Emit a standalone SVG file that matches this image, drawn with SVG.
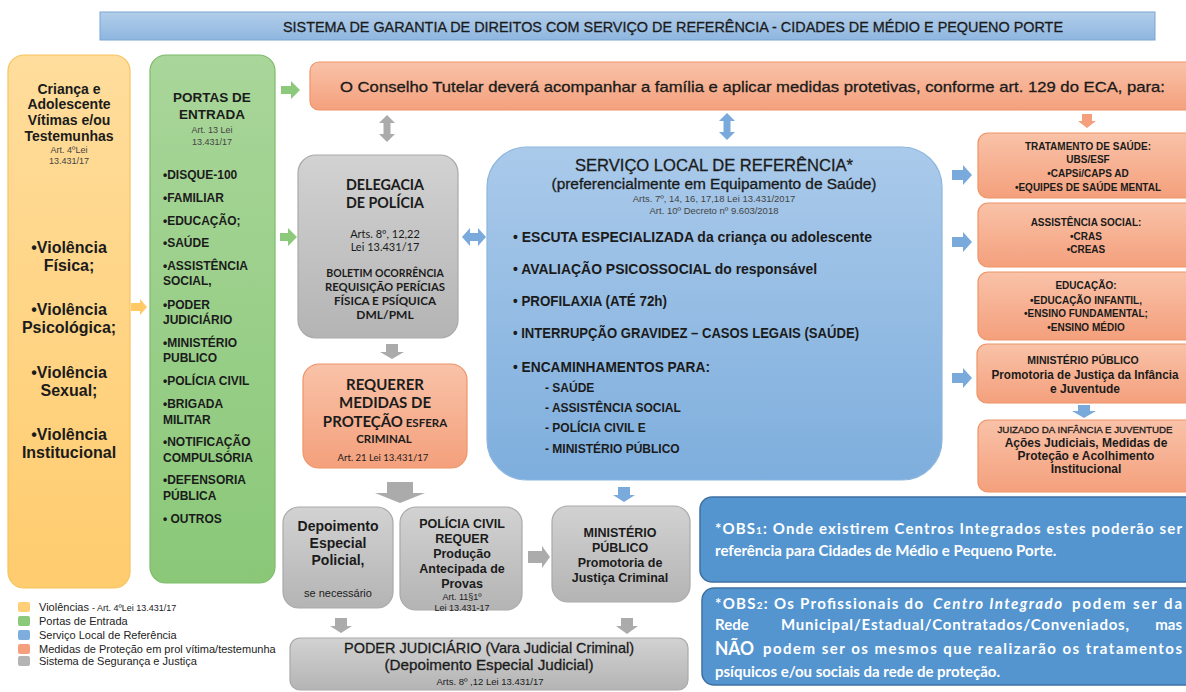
<svg xmlns="http://www.w3.org/2000/svg" width="1186" height="692" viewBox="0 0 1186 692">
<defs>
<linearGradient id="gTitle" x1="0" y1="0" x2="0" y2="1"><stop offset="0" stop-color="#B2CEEA"/><stop offset="1" stop-color="#8EB6E0"/></linearGradient>
<linearGradient id="gYel" x1="0" y1="0" x2="0" y2="1"><stop offset="0" stop-color="#FFDD9C"/><stop offset="1" stop-color="#FFCC6E"/></linearGradient>
<linearGradient id="gGrn" x1="0" y1="0" x2="0" y2="1"><stop offset="0" stop-color="#A9D69A"/><stop offset="1" stop-color="#8AC878"/></linearGradient>
<linearGradient id="gGry" x1="0" y1="0" x2="0" y2="1"><stop offset="0" stop-color="#D2D2D2"/><stop offset="1" stop-color="#B4B4B4"/></linearGradient>
<linearGradient id="gBlu" x1="0" y1="0" x2="0" y2="1"><stop offset="0" stop-color="#AACAEA"/><stop offset="1" stop-color="#7EAEDD"/></linearGradient>
<linearGradient id="gSal" x1="0" y1="0" x2="0" y2="1"><stop offset="0" stop-color="#F9C2A8"/><stop offset="1" stop-color="#F4A07C"/></linearGradient>
<style>
.cg{font-family:"Liberation Sans",Arial,sans-serif;fill:#1b1b1b}
.cb{font-family:Lato,"Liberation Sans",Arial,sans-serif;fill:#1b1b1b}
.b{font-weight:bold}
.m{text-anchor:middle}
.sm{fill:#444}
.med{stroke:#1b1b1b;stroke-width:0.3}
.yel{fill:url(#gYel);stroke:#F7C45F;stroke-width:1.2}
.grn{fill:url(#gGrn);stroke:#7DBB6A;stroke-width:1.2}
.gry{fill:url(#gGry);stroke:#A9A9A9;stroke-width:1.2}
.blu{fill:url(#gBlu);stroke:#8CB6DE;stroke-width:1.2}
.sal{fill:url(#gSal);stroke:#EE9467;stroke-width:1.2}
.obs{fill:#5495D0;stroke:#3E70A2;stroke-width:1.5}
.wt{font-family:Lato,"Liberation Sans",Arial,sans-serif;fill:#fff;font-weight:bold}
.lg{font-family:"Liberation Sans",Arial,sans-serif;font-size:11px;fill:#222}
</style>
</defs>
<rect width="1186" height="692" fill="#fff"/>

<g id="title">
<rect x="100" y="12" width="1055" height="28" fill="url(#gTitle)" stroke="#7CA5D4" stroke-width="1"/>
<text class="cg m med" x="673" y="31.5" font-size="15" textLength="780" lengthAdjust="spacingAndGlyphs">SISTEMA DE GARANTIA DE DIREITOS COM SERVIÇO DE REFERÊNCIA - CIDADES DE MÉDIO E PEQUENO PORTE</text>
</g>

<g id="violencias">
<rect class="yel" x="8" y="55" width="122" height="533" rx="16"/>
<text class="cg b m" font-size="14"><tspan x="69" y="94">Criança e</tspan><tspan x="69" y="109">Adolescente</tspan><tspan x="69" y="125">Vítimas e/ou</tspan><tspan x="69" y="141">Testemunhas</tspan></text>
<text class="cg m sm" font-size="9"><tspan x="69" y="153">Art. 4ºLei</tspan><tspan x="69" y="164">13.431/17</tspan></text>
<text class="cg b m" font-size="16"><tspan x="69" y="253">•Violência</tspan><tspan x="69" y="271">Física;</tspan><tspan x="69" y="315">•Violência</tspan><tspan x="69" y="333">Psicológica;</tspan><tspan x="69" y="378">•Violência</tspan><tspan x="69" y="396">Sexual;</tspan><tspan x="69" y="440">•Violência</tspan><tspan x="69" y="458">Institucional</tspan></text>
</g>

<g id="portas">
<rect class="grn" x="150" y="55" width="125" height="528" rx="16"/>
<text class="cg b m" font-size="13.5"><tspan x="212" y="102">PORTAS DE</tspan><tspan x="212" y="119">ENTRADA</tspan></text>
<text class="cg m sm" font-size="9"><tspan x="212" y="133">Art. 13 Lei</tspan><tspan x="212" y="145">13.431/17</tspan></text>
<text class="cg b" font-size="12"><tspan x="163" y="179">•DISQUE-100</tspan><tspan x="163" y="202">•FAMILIAR</tspan><tspan x="163" y="225">•EDUCAÇÃO;</tspan><tspan x="163" y="247">•SAÚDE</tspan><tspan x="163" y="270">•ASSISTÊNCIA</tspan><tspan x="163" y="285">SOCIAL,</tspan><tspan x="163" y="309">•PODER</tspan><tspan x="163" y="324">JUDICIÁRIO</tspan><tspan x="163" y="347">•MINISTÉRIO</tspan><tspan x="163" y="362">PUBLICO</tspan><tspan x="163" y="385">•POLÍCIA CIVIL</tspan><tspan x="163" y="408">•BRIGADA</tspan><tspan x="163" y="424">MILITAR</tspan><tspan x="163" y="446">•NOTIFICAÇÃO</tspan><tspan x="163" y="462">COMPULSÓRIA</tspan><tspan x="163" y="484">•DEFENSORIA</tspan><tspan x="163" y="500">PÚBLICA</tspan><tspan x="163" y="523">• OUTROS</tspan></text>
</g>

<g id="conselho">
<rect class="sal" x="310" y="62" width="890" height="48" rx="9"/>
<text class="cg med" x="340" y="92" font-size="15" textLength="825" lengthAdjust="spacingAndGlyphs">O Conselho Tutelar deverá acompanhar a família e aplicar medidas protetivas, conforme art. 129 do ECA, para:</text>
</g>

<g id="delegacia">
<rect class="gry" x="298" y="155" width="160" height="183" rx="18"/>
<text class="cb b m" font-size="16"><tspan x="385" y="190" textLength="78" lengthAdjust="spacingAndGlyphs">DELEGACIA</tspan><tspan x="385" y="208" textLength="78" lengthAdjust="spacingAndGlyphs">DE POLÍCIA</tspan></text>
<text class="cb m" font-size="11" fill="#333"><tspan x="385" y="238">Arts. 8º, 12,22</tspan><tspan x="385" y="251">Lei 13.431/17</tspan></text>
<text class="cb b m" font-size="10.5" x="385" y="277">BOLETIM  OCORRÊNCIA</text>
<text class="cb b m" font-size="12"><tspan x="385" y="291" textLength="120" lengthAdjust="spacingAndGlyphs">REQUISIÇÃO PERÍCIAS</tspan><tspan x="385" y="305" textLength="102" lengthAdjust="spacingAndGlyphs">FÍSICA E PSÍQUICA</tspan><tspan x="385" y="319">DML/PML</tspan></text>
</g>

<g id="requerer">
<rect class="sal" x="303" y="364" width="164" height="104" rx="16"/>
<text class="cb b m" font-size="15"><tspan x="385" y="390">REQUERER</tspan><tspan x="385" y="408">MEDIDAS  DE</tspan></text>
<text class="cb b m" x="385" y="427"><tspan font-size="15">PROTEÇÃO</tspan><tspan font-size="11.5"> ESFERA</tspan></text>
<text class="cb b m" font-size="11.5" x="384" y="443">CRIMINAL</text>
<text class="cb m" font-size="9.5" x="383" y="461" fill="#333">Art. 21 Lei 13.431/17</text>
</g>

<g id="servico">
<rect class="blu" x="487" y="147" width="455" height="333" rx="40"/>
<text class="cg m med" font-size="17" x="714" y="171" textLength="278" lengthAdjust="spacingAndGlyphs">SERVIÇO LOCAL DE REFERÊNCIA*</text>
<text class="cg m med" font-size="14" x="714" y="189" textLength="325" lengthAdjust="spacingAndGlyphs">(preferencialmente em Equipamento de Saúde)</text>
<text class="cg m sm" font-size="9.5"><tspan x="714" y="202">Arts. 7º,  14, 16, 17,18 Lei 13.431/2017</tspan><tspan x="714" y="214">Art.  10º Decreto nº 9.603/2018</tspan></text>
<text class="cg b" font-size="14" x="513" y="242" textLength="359" lengthAdjust="spacingAndGlyphs">• ESCUTA ESPECIALIZADA  da criança ou adolescente</text>
<text class="cg b" font-size="14" x="513" y="274" textLength="304" lengthAdjust="spacingAndGlyphs">• AVALIAÇÃO PSICOSSOCIAL do responsável</text>
<text class="cg b" font-size="14" x="513" y="306" textLength="154" lengthAdjust="spacingAndGlyphs">• PROFILAXIA (ATÉ 72h)</text>
<text class="cg b" font-size="14" x="513" y="338" textLength="346" lengthAdjust="spacingAndGlyphs">• INTERRUPÇÃO GRAVIDEZ – CASOS LEGAIS (SAÚDE)</text>
<text class="cg b" font-size="14" x="513" y="372" textLength="197" lengthAdjust="spacingAndGlyphs">• ENCAMINHAMENTOS  PARA:</text>
<text class="cg b" font-size="12"><tspan x="545" y="392">- SAÚDE</tspan><tspan x="545" y="412">- ASSISTÊNCIA SOCIAL</tspan><tspan x="545" y="432">- POLÍCIA  CIVIL E</tspan><tspan x="545" y="453">- MINISTÉRIO PÚBLICO</tspan></text>
</g>

<g id="tratamento">
<rect class="sal" x="978" y="133" width="220" height="65" rx="10"/>
<text class="cg b m" font-size="10"><tspan x="1088" y="150">TRATAMENTO DE SAÚDE:</tspan><tspan x="1088" y="163">UBS/ESF</tspan><tspan x="1088" y="177">•CAPSi/CAPS AD</tspan><tspan x="1088" y="191">•EQUIPES DE SAÚDE MENTAL</tspan></text>
</g>
<g id="assistencia">
<rect class="sal" x="978" y="203" width="220" height="64" rx="10"/>
<text class="cg b m" font-size="10"><tspan x="1086" y="226">ASSISTÊNCIA SOCIAL:</tspan><tspan x="1086" y="240">•CRAS</tspan><tspan x="1086" y="253">•CREAS</tspan></text>
</g>
<g id="educacao">
<rect class="sal" x="978" y="272" width="220" height="68" rx="10"/>
<text class="cg b m" font-size="10"><tspan x="1086" y="289">EDUCAÇÃO:</tspan><tspan x="1086" y="304">•EDUCAÇÃO INFANTIL,</tspan><tspan x="1086" y="317">•ENSINO FUNDAMENTAL;</tspan><tspan x="1086" y="331">•ENSINO MÉDIO</tspan></text>
</g>
<g id="mp-infancia">
<rect class="sal" x="977" y="344" width="221" height="59" rx="10"/>
<text class="cg b m" font-size="10.5" x="1083" y="364">MINISTÉRIO PÚBLICO</text>
<text class="cg b m" font-size="12"><tspan x="1085" y="379" textLength="187" lengthAdjust="spacingAndGlyphs">Promotoria de Justiça da Infância</tspan><tspan x="1085" y="393">e Juventude</tspan></text>
</g>
<g id="juizado">
<rect class="sal" x="978" y="420" width="220" height="72" rx="10"/>
<text class="cg m med" font-size="9.5" x="1085" y="433" textLength="175" lengthAdjust="spacingAndGlyphs">JUIZADO DA INFÂNCIA E JUVENTUDE</text>
<text class="cg b m" font-size="12"><tspan x="1086" y="447">Ações Judiciais, Medidas de</tspan><tspan x="1086" y="460">Proteção e Acolhimento</tspan><tspan x="1086" y="473">Institucional</tspan></text>
</g>

<g id="depoimento">
<rect class="gry" x="283" y="507" width="110" height="101" rx="16"/>
<text class="cg b m" font-size="14"><tspan x="338" y="531">Depoimento</tspan><tspan x="338" y="548">Especial</tspan><tspan x="338" y="565">Policial,</tspan></text>
<text class="cg m" font-size="11" x="338" y="597">se necessário</text>
</g>
<g id="policia-civil">
<rect class="gry" x="400" y="507" width="122" height="103" rx="16"/>
<text class="cg b m" font-size="12.5"><tspan x="462" y="528">POLÍCIA CIVIL</tspan><tspan x="462" y="543">REQUER</tspan><tspan x="462" y="558">Produção</tspan><tspan x="462" y="573">Antecipada de</tspan><tspan x="462" y="588">Provas</tspan></text>
<text class="cg m" font-size="9" fill="#333"><tspan x="462" y="600">Art. 11§1º</tspan><tspan x="462" y="611">Lei 13.431-17</tspan></text>
</g>
<g id="mp-criminal">
<rect class="gry" x="552" y="506" width="138" height="96" rx="16"/>
<text class="cg b m" font-size="12.5"><tspan x="620" y="537">MINISTÉRIO</tspan><tspan x="620" y="552">PÚBLICO</tspan><tspan x="620" y="567">Promotoria de</tspan><tspan x="620" y="582">Justiça Criminal</tspan></text>
</g>
<g id="poder-judiciario">
<rect class="gry" x="290" y="638" width="398" height="52" rx="10"/>
<text class="cg m med" font-size="15" x="489" y="653" textLength="290" lengthAdjust="spacingAndGlyphs">PODER JUDICIÁRIO (Vara Judicial Criminal)</text>
<text class="cg m med" font-size="15" x="489" y="670" textLength="209" lengthAdjust="spacingAndGlyphs">(Depoimento Especial Judicial)</text>
<text class="cg m" font-size="9.5" x="490" y="685" fill="#333">Arts. 8º ,12 Lei 13.431/17</text>
</g>

<g id="obs1">
<rect class="obs" x="700" y="497" width="500" height="85" rx="12"/>
<text class="wt" font-size="15" x="715" y="534" textLength="467" lengthAdjust="spacing">*OBS<tspan font-size="10">1</tspan>: Onde existirem Centros Integrados estes poderão ser</text>
<text class="wt" font-size="15" x="715" y="556">referência para Cidades de Médio e Pequeno Porte.</text>
</g>
<g id="obs2">
<rect class="obs" x="702" y="588" width="498" height="97" rx="12"/>
<text class="wt" font-size="15" x="715" y="609" textLength="208" lengthAdjust="spacing">*OBS<tspan font-size="10">2</tspan>: Os Profissionais do</text>
<text class="wt" font-size="15" x="933" y="609" font-style="italic" textLength="129" lengthAdjust="spacing">Centro Integrado</text>
<text class="wt" font-size="15" x="1072" y="609" textLength="110" lengthAdjust="spacing">podem ser da</text>
<text class="wt" font-size="15" x="715" y="630">Rede</text>
<text class="wt" font-size="15" x="781" y="630" textLength="348" lengthAdjust="spacing">Municipal/Estadual/Contratados/Conveniados,</text>
<text class="wt" font-size="15" x="1182" y="630" text-anchor="end">mas</text>
<text class="wt" font-size="19" x="715" y="655" textLength="39" lengthAdjust="spacingAndGlyphs">NÃO</text>
<text class="wt" font-size="15" x="763" y="654" textLength="419" lengthAdjust="spacing">podem ser os mesmos que realizarão os tratamentos</text>
<text class="wt" font-size="15" x="715" y="677">psíquicos e/ou sociais da rede de proteção.</text>
</g>

<g id="legenda">
<rect x="18" y="602" width="12" height="10" rx="2" fill="#FFCF78"/>
<rect x="18" y="616" width="12" height="10" rx="2" fill="#8CC97A"/>
<rect x="18" y="630" width="12" height="10" rx="2" fill="#7EAEDD"/>
<rect x="18" y="644" width="12" height="10" rx="2" fill="#F4A07C"/>
<rect x="18" y="656" width="12" height="10" rx="2" fill="#B4B4B4"/>
<text class="lg" x="39" y="611">Violências <tspan font-size="9">- Art. 4ºLei 13.431/17</tspan></text>
<text class="lg" x="39" y="625">Portas de Entrada</text>
<text class="lg" x="39" y="639">Serviço Local de Referência</text>
<text class="lg" x="39" y="653">Medidas de Proteção em prol vítima/testemunha</text>
<text class="lg" x="39" y="665">Sistema de Segurança e Justiça</text>
</g>

<g id="connectors">
<path d="M131,303 H140 V299 L147,307 L140,315 V311 H131 Z" fill="#FFC966"/>
<path d="M281,86 H291 V81 L300,90 L291,99 V94 H281 Z" fill="#8CC97A"/>
<path d="M280,233 H288 V228 L297,237 L288,246 V241 H280 Z" fill="#8CC97A"/>
<path d="M387,115 L395,123 H390.5 V134 H395 L387,142 L379,134 H383.5 V123 H379 Z" fill="#ABABAB"/>
<path d="M727,113 L735,121 H730.5 V132 H735 L727,140 L719,132 H723.5 V121 H719 Z" fill="#7AAADB"/>
<path d="M1082,114 H1092 V121 H1096 L1087,128 L1078,121 H1082 Z" fill="#F4A07C"/>
<path d="M462,237 L470,228 V233 H478 V228 L486,237 L478,246 V241 H470 V246 Z" fill="#7AAADB"/>
<path d="M952,170 H963 V165 L972,175 L963,185 V180 H952 Z" fill="#7AAADB"/>
<path d="M952,237 H963 V232 L972,242 L963,252 V247 H952 Z" fill="#7AAADB"/>
<path d="M952,373 H963 V368 L972,378 L963,388 V383 H952 Z" fill="#7AAADB"/>
<path d="M1078,405 H1090 V411 H1096 L1084,418 L1072,411 H1078 Z" fill="#7AAADB"/>
<path d="M386,344 H398 V352 H404 L392,359 L380,352 H386 Z" fill="#ABABAB"/>
<path d="M387,482 H413 V493 H425 L400,503 L375,493 H387 Z" fill="#ABABAB"/>
<path d="M618,487 H630 V495 H635 L624,502 L613,495 H618 Z" fill="#7AAADB"/>
<path d="M528,551 H542 V546 L550,557 L542,568 V563 H528 Z" fill="#ABABAB"/>
<path d="M335,618 H347 V626 H352 L341,633 L330,626 H335 Z" fill="#ABABAB"/>
<path d="M621,618 H633 V626 H638 L627,634 L616,626 H621 Z" fill="#ABABAB"/>
</g>
</svg>
